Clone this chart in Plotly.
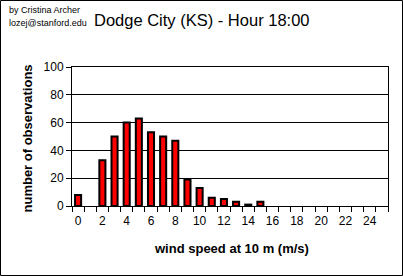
import plotly.graph_objects as go

speeds = list(range(0, 26))
counts = [8, 0, 33, 50, 60, 63, 53, 50, 47, 19, 13, 6, 5, 3, 1, 3,
          0, 0, 0, 0, 0, 0, 0, 0, 0, 0]
y_ticks = [0, 20, 40, 60, 80, 100]
x_ticks = list(range(0, 25, 2))

W, H = 403, 276
L, R, T, B = 72, 15, 67, 70
pw, ph = W - L - R, H - T - B

fig = go.Figure()
fig.add_trace(go.Bar(
    x=speeds, y=[c if c else None for c in counts], width=0.5,
    marker=dict(color="#FF0000", line=dict(color="black", width=2)),
))

font = "Liberation Sans, Arial, sans-serif"
fig.update_layout(
    width=W, height=H,
    margin=dict(l=L, r=R, t=T, b=B),
    paper_bgcolor="white", plot_bgcolor="white",
    showlegend=False,
    font=dict(family=font, color="black", size=12),
    xaxis=dict(
        range=[-0.5, 25.5], tickvals=x_ticks, ticks="", showgrid=False,
        zeroline=False, showline=True, linecolor="black", linewidth=1, mirror=True,
        tickfont=dict(size=12), ticklabelstandoff=4,
        minor=dict(tickvals=[i + 0.5 for i in range(-1, 26)], ticks="outside",
                   ticklen=5, tickcolor="black", tickwidth=1, showgrid=False),
    ),
    yaxis=dict(
        range=[0, 100], tickvals=y_ticks, ticks="outside", ticklen=5,
        tickcolor="black", showgrid=True, gridcolor="black", gridwidth=1,
        zeroline=False, showline=True, linecolor="black", linewidth=1, mirror=True,
        tickfont=dict(size=12),
    ),
    annotations=[
        dict(text="Dodge City (KS) - Hour 18:00", xref="paper", yref="paper",
             x=(201.5 - L) / pw, y=1 + (T - 20) / ph, xanchor="center", yanchor="middle",
             showarrow=False, font=dict(size=16.5)),
        dict(text="by Cristina Archer", xref="paper", yref="paper",
             x=-(L - 7) / pw, y=1 + (T - 10) / ph, xanchor="left", yanchor="middle",
             showarrow=False, font=dict(size=9)),
        dict(text="lozej@stanford.edu", xref="paper", yref="paper",
             x=-(L - 7) / pw, y=1 + (T - 23) / ph, xanchor="left", yanchor="middle",
             showarrow=False, font=dict(size=9)),
        dict(text="<b>number of observations</b>", xref="paper", yref="paper",
             x=-(L - 27) / pw, y=0.5 - (138.5 - T - ph / 2) / ph, textangle=-90,
             xanchor="center", yanchor="middle", showarrow=False, font=dict(size=13)),
        dict(text="<b>wind speed at 10 m (m/s)</b>", xref="paper", yref="paper",
             x=(231 - L) / pw, y=-(248 - T - ph) / ph, xanchor="center", yanchor="middle",
             showarrow=False, font=dict(size=13)),
    ],
    shapes=[
        dict(type="rect", xref="paper", yref="paper",
             x0=-(L - 0.5) / pw, x1=1 + (R - 0.5) / pw,
             y0=-(B - 0.5) / ph, y1=1 + (T - 0.5) / ph,
             line=dict(color="black", width=1), layer="above"),
    ],
)

fig.write_html("out.html")
